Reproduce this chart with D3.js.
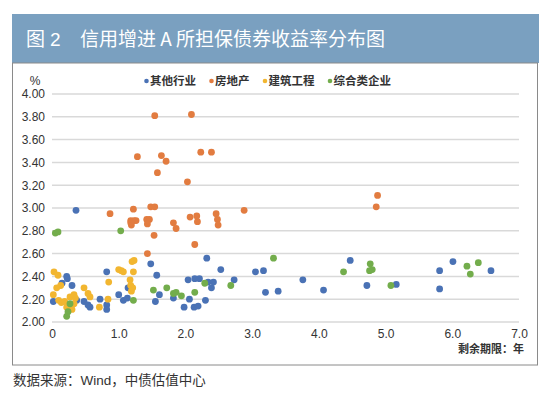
<!DOCTYPE html>
<html>
<head>
<meta charset="utf-8">
<title>信用增进A所担保债券收益率分布图</title>
<script src="https://cdn.jsdelivr.net/npm/d3@7"></script>
<style>
  body { margin: 0; background: #fff; }
  svg text { font-family: "Liberation Sans", "Noto Sans CJK SC", sans-serif; }
  .cjk { font-family: "Noto Sans CJK SC", "Liberation Sans", sans-serif !important; }
  .lat { font-family: "Liberation Sans", sans-serif !important; }
  .grid line { stroke: #d9d9d9; stroke-width: 1.5px; }
</style>
</head>
<body>
<div id="chart"></div>
<script>
// series names and colours
var seriesNames = ["其他行业", "房地产", "建筑工程", "综合类企业"];
var seriesColors = ["#4a72b5", "#e27c40", "#f2b630", "#73ad4c"];

// [剩余期限(年), 收益率(%)]
var other = [
  [0.36,2.98],[0.22,2.40],[0.23,2.38],[0.15,2.34],[0.30,2.32],[0.02,2.18],[0.37,2.19],
  [0.48,2.18],[0.54,2.15],[0.57,2.13],[0.72,2.20],[0.82,2.15],[0.82,2.11],[0.82,2.44],
  [1.14,2.30],[1.00,2.24],[1.07,2.19],[1.13,2.21],[1.48,2.51],[1.57,2.41],[1.55,2.18],
  [1.61,2.24],[1.82,2.21],[1.98,2.13],[2.04,2.37],[2.06,2.20],[2.13,2.13],[2.14,2.38],
  [2.19,2.14],[2.21,2.38],[2.30,2.19],[2.32,2.56],[2.34,2.35],[2.39,2.30],[2.42,2.35],
  [2.53,2.46],[2.73,2.37],[3.05,2.44],[3.17,2.45],[3.20,2.26],[3.39,2.27],[3.76,2.37],
  [4.07,2.28],[4.47,2.54],[4.72,2.32],[5.16,2.33],[5.81,2.45],[5.81,2.29],[6.01,2.53],
  [6.58,2.45]
];
var realEstate = [
  [0.87,2.95],[1.22,2.99],[1.18,2.89],[1.23,2.89],[1.26,2.89],[1.19,2.85],[1.18,2.87],
  [1.28,3.45],[1.42,2.90],[1.46,2.90],[1.43,2.86],[1.43,2.60],[1.48,3.01],[1.54,3.01],
  [1.53,2.76],[1.54,3.81],[1.58,3.31],[1.64,3.46],[1.71,3.41],[1.82,2.87],[1.86,2.82],
  [2.03,3.23],[2.09,3.82],[2.07,2.92],[2.17,2.93],[2.18,2.88],[2.14,2.68],[2.23,3.49],
  [2.39,3.49],[2.46,2.95],[2.48,2.90],[2.49,2.85],[2.88,2.98],[4.86,3.01],[4.88,3.11]
];
var construction = [
  [0.03,2.44],[0.09,2.41],[0.13,2.32],[0.07,2.30],[0.48,2.30],[0.02,2.24],[0.10,2.19],
  [0.14,2.17],[0.19,2.18],[0.25,2.15],[0.33,2.16],[0.27,2.22],[0.33,2.24],[0.35,2.21],
  [0.22,2.13],[0.30,2.11],[0.54,2.25],[0.57,2.22],[0.71,2.13],[0.84,2.20],[0.85,2.35],
  [1.00,2.46],[1.04,2.45],[1.07,2.44],[1.22,2.44],[1.17,2.37],[1.18,2.32],[1.21,2.30],
  [1.19,2.27],[1.20,2.53],[1.23,2.54]
];
var composite = [
  [0.05,2.78],[0.09,2.79],[1.03,2.80],[0.27,2.16],[0.24,2.09],[0.22,2.05],[1.22,2.19],
  [1.52,2.28],[1.72,2.30],[1.82,2.25],[1.86,2.26],[1.94,2.23],[2.14,2.26],[2.29,2.34],
  [2.68,2.32],[3.32,2.56],[4.37,2.44],[4.77,2.51],[4.76,2.45],[4.80,2.46],[5.08,2.32],
  [6.22,2.49],[6.39,2.52],[6.27,2.42]
];
var allSeries = [other, realEstate, construction, composite];

var xTicks = [0, 1, 2, 3, 4, 5, 6, 7];
var xTickLabels = ["0", "1.0", "2.0", "3.0", "4.0", "5.0", "6.0", "7.0"];
var yTicks = [2.0, 2.2, 2.4, 2.6, 2.8, 3.0, 3.2, 3.4, 3.6, 3.8, 4.0];

var width = 550, height = 396;
var svg = d3.select("#chart").append("svg")
    .attr("width", width)
    .attr("height", height);

// title band
svg.append("rect")
    .attr("x", 12).attr("y", 14).attr("width", 527).attr("height", 49)
    .attr("fill", "#7aa0c0");
svg.append("text").attr("class", "cjk")
    .attr("x", 26).attr("y", 46)
    .attr("fill", "#fff").style("font-size", "19px")
    .text("图");
svg.append("text").attr("class", "lat")
    .attr("x", 50).attr("y", 46)
    .attr("fill", "#fff").style("font-size", "19px")
    .text("2");
svg.append("text").attr("class", "cjk")
    .attr("x", 80).attr("y", 46)
    .attr("fill", "#fff").style("font-size", "19px")
    .text("信用增进 A 所担保债券收益率分布图");

// chart frame
svg.append("rect")
    .attr("x", 12.5).attr("y", 63).attr("width", 525).attr("height", 302)
    .attr("fill", "none").attr("stroke", "#8a8a8a").attr("stroke-width", 1);

var x = d3.scaleLinear().domain([0, 7]).range([52, 519]);
var y = d3.scaleLinear().domain([2, 4]).range([322, 94]);

// gridlines
svg.append("g").attr("class", "grid")
  .selectAll("line").data(yTicks).enter().append("line")
    .attr("x1", x(0)).attr("x2", x(7))
    .attr("y1", function(d) { return y(d); })
    .attr("y2", function(d) { return y(d); });

// y axis labels
var yAxis = d3.axisLeft(y).tickValues(yTicks).tickSize(0).tickPadding(0)
    .tickFormat(d3.format(".2f"));
svg.append("g").attr("transform", "translate(45,0)").call(yAxis)
  .call(function(g) { g.select(".domain").remove(); })
  .selectAll("text").attr("fill", "#333").style("font-size", "12px");

// x axis labels
var xAxis = d3.axisBottom(x).tickValues(xTicks).tickSize(0).tickPadding(0)
    .tickFormat(function(d, i) { return xTickLabels[i]; });
svg.append("g").attr("transform", "translate(0,329)").call(xAxis)
  .call(function(g) { g.select(".domain").remove(); })
  .selectAll("text").attr("fill", "#333").style("font-size", "12px");

svg.append("text")
    .attr("x", 35).attr("y", 85).attr("text-anchor", "middle")
    .attr("fill", "#333").style("font-size", "12px").text("%");

svg.append("text").attr("class", "cjk")
    .attr("x", 524).attr("y", 353).attr("text-anchor", "end")
    .attr("fill", "#333").style("font-size", "11px").style("font-weight", "bold")
    .text("剩余期限：年");

// points
allSeries.forEach(function(data, i) {
  svg.append("g").selectAll("circle").data(data).enter().append("circle")
    .attr("cx", function(d) { return x(d[0]); })
    .attr("cy", function(d) { return y(d[1]); })
    .attr("r", 3.4)
    .attr("fill", seriesColors[i]);
});

// legend
var lx = 144;
seriesNames.forEach(function(name, i) {
  var g = svg.append("g").attr("transform", "translate(" + lx + ",81)");
  g.append("circle").attr("cx", 2.5).attr("cy", 0).attr("r", 2.3).attr("fill", seriesColors[i]);
  var t = g.append("text").attr("class", "cjk")
      .attr("x", 6).attr("y", 4)
      .attr("fill", "#333").style("font-size", "11.5px").style("font-weight", "bold")
      .text(name);
  lx += 6 + t.node().getComputedTextLength() + 13;
});

// source note
var src = svg.append("text").attr("class", "cjk")
    .attr("x", 13).attr("y", 385)
    .attr("fill", "#333").style("font-size", "13.5px");
src.append("tspan").text("数据来源：");
src.append("tspan").attr("class", "lat").text("Wind");
src.append("tspan").text("，中债估值中心");
</script>
</body>
</html>
